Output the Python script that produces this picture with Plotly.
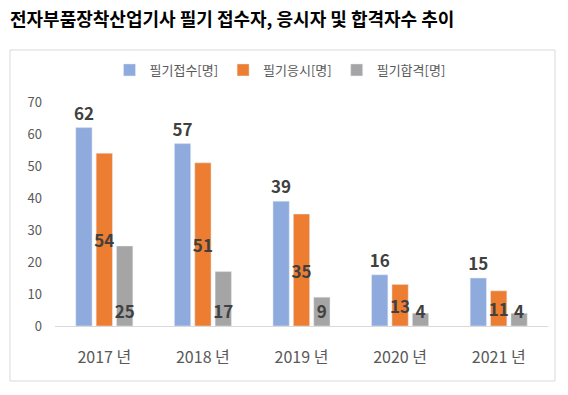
import plotly.graph_objects as go

years = ["2017 년", "2018 년", "2019 년", "2020 년", "2021 년"]
applied = [62, 57, 39, 16, 15]
took = [54, 51, 35, 13, 11]
passed = [25, 17, 9, 4, 4]
names = ["필기접수[명]", "필기응시[명]", "필기합격[명]"]
colors = ["#8FAADC", "#ED7D31", "#A5A5A5"]

FONT = "Noto Sans CJK KR, Noto Sans, sans-serif"
lblfont = dict(family=FONT, size=17, color="#404040", weight="bold")

fig = go.Figure()
fig.add_bar(x=years, y=applied, name=names[0], marker_color=colors[0],
            text=applied, textposition="outside", textfont=lblfont,
            cliponaxis=False, textangle=0, constraintext="none")
fig.add_bar(x=years, y=took, name=names[1], marker_color=colors[1],
            text=took, textposition="inside", insidetextanchor="middle",
            textfont=lblfont, constraintext="none", textangle=0)
fig.add_bar(x=years, y=passed, name=names[2], marker_color=colors[2],
            text=passed, textposition="inside", insidetextanchor="start",
            textfont=lblfont, constraintext="none", textangle=0)

L, R, T, B = 55, 20, 102, 69
W, H = 568, 395
pw, ph = W - L - R, H - T - B

def px(x):
    return (x - L) / pw

def py(y):
    return (H - B - y) / ph

fig.add_shape(type="rect", xref="paper", yref="paper",
              x0=px(10), x1=px(555), y0=py(381), y1=py(50),
              line=dict(color="#D9D9D9", width=1), fillcolor="rgba(0,0,0,0)",
              layer="below")

fig.update_layout(
    width=W, height=H,
    margin=dict(l=L, r=R, t=T, b=B, autoexpand=False),
    paper_bgcolor="white", plot_bgcolor="white",
    barmode="group", bargap=0.38, bargroupgap=0.2,
    font=dict(family=FONT, color="#595959"),
    title=dict(text="<b>전자부품장착산업기사 필기 접수자, 응시자 및 합격자수 추이</b>",
               xref="container", yref="container", x=10 / W, xanchor="left",
               y=1 - 20 / H, yanchor="middle", automargin=False,
               font=dict(family=FONT, size=18, color="#000000")),
    legend=dict(orientation="h", xref="container", yref="container",
                x=280 / W, xanchor="center", y=1 - 70 / H, yanchor="middle",
                font=dict(size=13, color="#595959"), itemwidth=30,
                traceorder="normal"),
    xaxis=dict(showgrid=False, showline=True, linecolor="#D9D9D9",
               tickfont=dict(size=16, color="#595959"), ticks="",
               ticklabelstandoff=17),
    yaxis=dict(range=[0, 70], dtick=10, showgrid=False, zeroline=False,
               showline=False, tickfont=dict(size=13, color="#595959"),
               ticklabelstandoff=12),
)

fig.write_html("out.html", post_script="document.body.style.margin='0';",
               config={"displayModeBar": False})
